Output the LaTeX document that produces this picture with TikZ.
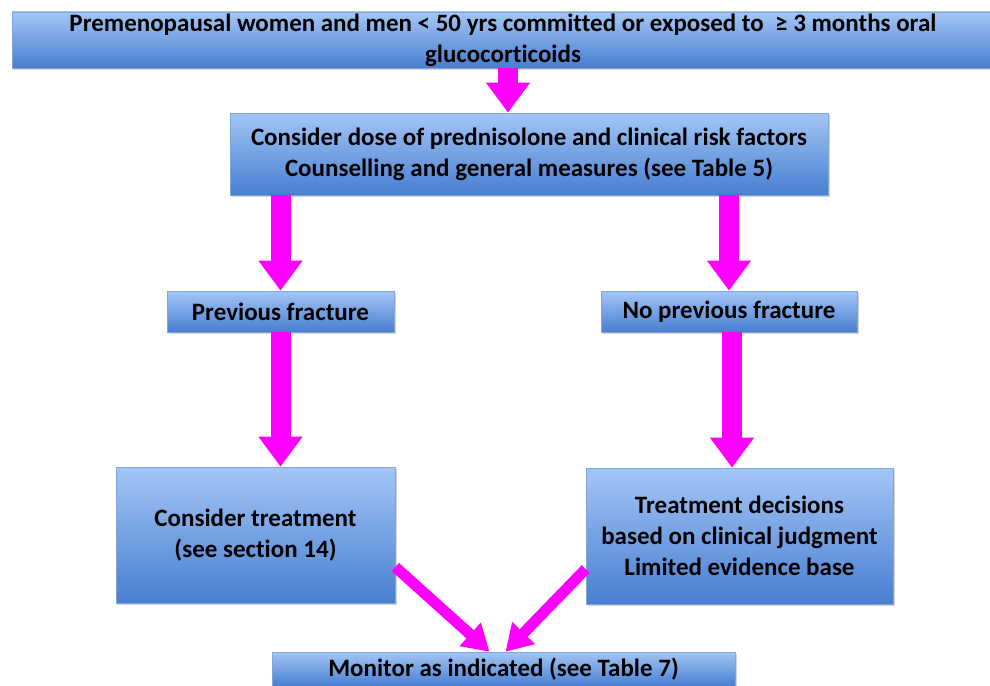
\documentclass[tikz,border=0pt]{standalone}
\usepackage{fontspec}
\setmainfont[Ligatures=NoCommon]{Carlito}
\usetikzlibrary{arrows.meta,shadows,calc}
\definecolor{boxtop}{RGB}{163,198,246}
\definecolor{boxbot}{RGB}{72,126,208}
\definecolor{boxline}{RGB}{130,165,215}
\definecolor{mag}{RGB}{255,0,255}
\tikzset{
  box/.style={rectangle, draw=boxline, line width=0.6pt, top color=boxtop, bottom color=boxbot,
    font=\fontsize{25}{31}\selectfont\bfseries, align=center, inner sep=0pt,
    drop shadow={opacity=0.35, shadow xshift=2pt, shadow yshift=-2pt}},
  bigarrow/.style={draw=mag, line width=20pt, -{Triangle[width=42pt,length=30pt]}},
  thinarrow/.style={draw=mag, line width=11pt, -{Triangle[width=30pt,length=26pt]}}
}
\begin{document}
\begin{tikzpicture}[x=1pt,y=-1pt]
\useasboundingbox (0,0) rectangle (990,685);
\node[box, minimum width=982pt, minimum height=56pt] (top) at (503,40)
  {Premenopausal women and men < 50 yrs committed or exposed to \ ≥ 3 months oral\\glucocorticoids};
\node[box, minimum width=598pt, minimum height=82pt] (b2) at (529,154)
  {Consider dose of prednisolone and clinical risk factors\\Counselling and general measures (see Table 5)};
\node[box, minimum width=227pt, minimum height=41pt] (pf) at (280.5,311.5) {Previous fracture};
\node[box, minimum width=256pt, minimum height=41pt] (npf) at (729,311.5) {No previous fracture};
\node[box, minimum width=279pt, minimum height=136pt] (ct) at (255.5,535)
  {Consider treatment\\(see section 14)};
\node[box, minimum width=307pt, minimum height=136pt] (td) at (739.5,536)
  {Treatment decisions\\based on clinical judgment\\Limited evidence base};
\node[box, minimum width=463pt, minimum height=34pt] (mon) at (503.5,669)
  {Monitor as indicated (see Table 7)};
\draw[bigarrow] ([xshift=5pt]top.south) -- ([xshift=-21pt]b2.north);
\draw[bigarrow] (b2.south -| pf.north) -- (pf.north);
\draw[bigarrow] (b2.south -| npf.north) -- (npf.north);
\draw[bigarrow] (pf.south) -- (pf.south |- ct.north);
\draw[bigarrow] ([xshift=3pt]npf.south) -- ([xshift=3pt]npf.south |- td.north);
\draw[thinarrow] ([yshift=-32pt]ct.east) -- ([xshift=-14pt]mon.north);
\draw[thinarrow] ([yshift=-33pt]td.west) -- ([xshift=2pt]mon.north);
\end{tikzpicture}
\end{document}
